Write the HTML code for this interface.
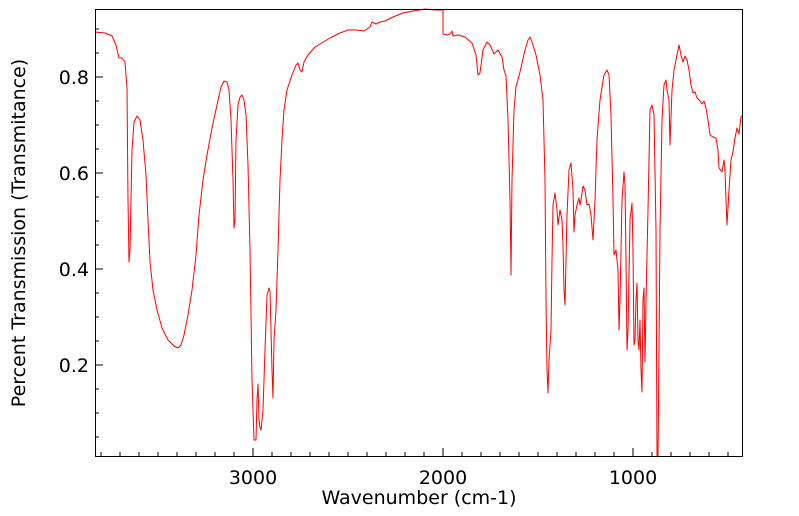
<!DOCTYPE html>
<html><head><meta charset="utf-8"><style>body{margin:0;background:#fff}svg{display:block}</style></head><body>
<svg width="799" height="516" xmlns="http://www.w3.org/2000/svg" font-family="'DejaVu Sans','Liberation Sans',sans-serif">
<rect width="799" height="516" fill="#fff"/>
<g stroke="#000" stroke-width="1">
<path d="M253,456v-8M443,456v-8M633,456v-8"/>
<path d="M101,456v-4M120,456v-4M139,456v-4M158,456v-4M177,456v-4M196,456v-4M215,456v-4M234,456v-4M272,456v-4M291,456v-4M310,456v-4M329,456v-4M348,456v-4M367,456v-4M386,456v-4M405,456v-4M424,456v-4M462,456v-4M481,456v-4M500,456v-4M519,456v-4M538,456v-4M557,456v-4M576,456v-4M595,456v-4M614,456v-4M652,456v-4M671,456v-4M690,456v-4M709,456v-4M728,456v-4"/>
<path d="M95,77h8M95,173h8M95,269h8M95,365h8"/>
<path d="M95,29h4M95,53h4M95,101h4M95,125h4M95,149h4M95,197h4M95,221h4M95,245h4M95,293h4M95,317h4M95,341h4M95,389h4M95,413h4M95,437h4"/>
</g>
<polyline fill="none" stroke="#ff0000" stroke-width="1" stroke-linejoin="round" points="95,32 105,33 112,36 116,45 119,58 122,58 125,62 127,88 128,200 129,262 130,250 132,150 134,122 137,116 140,120 143,140 146,175 148,220 150,262 153,290 157,310 162,328 168,340 174,346 178,348 181,345 184,335 188,315 192,290 196,255 199,215 203,180 207,155 212,128 217,105 221,87 224,81 227,82 229,90 231,120 233,180 234,228 235,220 236,140 238,105 240,97 242,95 244,100 246,115 248,165 250,250 252,380 254,440 256,440 257,400 258,384 259,420 260,428 261,430 263,410 265,350 267,295 269,288 270,292 272,370 273,398 274,340 276,310 278,250 280,180 282,140 284,110 287,90 292,75 296,65 298,63 300,70 302,72 304,62 308,55 315,47 320,44 330,38 340,33 348,30 356,30 364,31 370,27 372,22 376,24 380,22 385,21 393,17 403,13 413,11 425,9 435,10 443,10 443,34 447,35 450,34 452,31 453,36 458,35 465,37 472,43 476,55 478,75 480,73 483,50 487,42 490,45 494,54 498,50 502,57 504,70 506,76 508,120 510,200 511,275 512,180 514,110 516,87 520,72 525,50 528,40 530,37 532,42 536,55 540,75 543,100 545,180 546,300 547,370 548,393 549,360 551,330 552,260 553,205 555,193 557,210 558,225 560,210 562,220 563,245 564,290 565,305 566,260 567,215 569,170 571,163 573,190 574,232 575,215 577,205 579,198 580,205 581,200 583,186 585,190 587,205 589,204 591,215 593,240 595,200 597,140 600,100 604,75 607,70 609,75 611,115 613,200 614,255 616,250 618,270 619,330 620,300 622,200 624,172 625,185 626,260 627,350 628,330 630,220 632,203 633,250 634,345 635,340 636,300 637,283 638,340 639,350 640,320 641,370 642,392 643,300 644,288 645,362 646,300 648,210 650,110 652,105 654,115 656,230 657,456 658,456 659,350 660,230 662,120 664,85 666,80 667,90 669,100 670,145 672,90 674,70 677,55 679,45 681,55 683,62 685,56 687,60 689,70 691,85 693,93 695,92 697,98 700,101 702,104 704,101 706,108 708,120 710,135 713,137 716,138 718,150 719,168 722,172 724,160 725,170 726,200 727,225 729,190 731,160 733,152 735,138 737,128 739,134 741,117 742,116"/>
<rect x="95.5" y="9.5" width="647" height="447" fill="none" stroke="#000" stroke-width="1"/>
<g font-size="19" fill="#000" text-anchor="end">
<text x="89" y="84">0.8</text><text x="89" y="180">0.6</text><text x="89" y="276">0.4</text><text x="89" y="372">0.2</text>
</g>
<g font-size="19" fill="#000" text-anchor="middle">
<text x="253" y="484">3000</text><text x="443" y="484">2000</text><text x="633" y="484">1000</text>
<text x="419" y="504">Wavenumber (cm-1)</text>
<text transform="translate(25,233) rotate(-90)">Percent Transmission (Transmitance)</text>
</g>
</svg>
</body></html>
